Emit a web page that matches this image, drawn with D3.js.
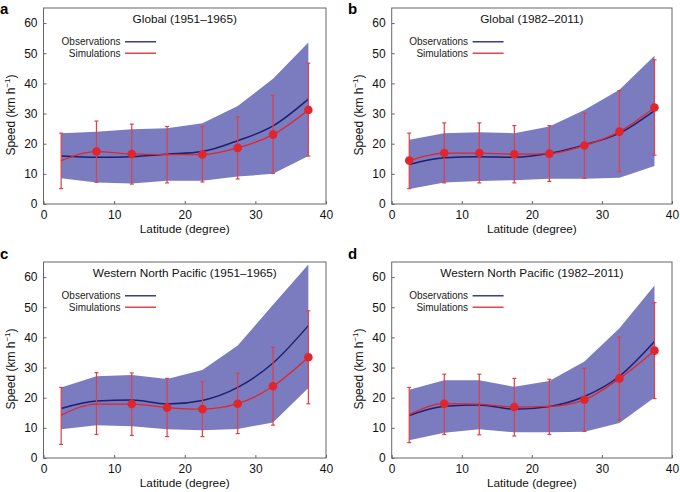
<!DOCTYPE html>
<html><head><meta charset="utf-8">
<script src="https://cdn.jsdelivr.net/npm/d3@7"></script>
<style>body{margin:0;background:#fff}svg{display:block;font-family:"Liberation Sans",Arial,sans-serif}</style>
</head><body><svg id="c" width="680" height="492"></svg>
<script>
const latitudes = [2.5, 7.5, 12.5, 17.5, 22.5, 27.5, 32.5, 37.5];
const xTicks = [0, 10, 20, 30, 40];
const yTicks = [0, 10, 20, 30, 40, 50, 60];
const panelLetters = ["a", "b", "c", "d"];
const panelTitles = ["Global (1951\u20131965)", "Global (1982\u20132011)", "Western North Pacific (1951\u20131965)", "Western North Pacific (1982\u20132011)"];
const seriesNames = ["Observations", "Simulations"];

const obsUpper = [
  [23.5, 24.0, 24.8, 25.1, 26.8, 32.5, 41.5, 53.6],
  [21.3, 23.5, 23.8, 23.5, 25.7, 31.2, 37.9, 49.2],
  [23.4, 27.1, 27.5, 26.2, 29.2, 37.3, 50.8, 64.2],
  [22.6, 25.8, 25.8, 23.6, 25.5, 32.0, 43.0, 57.2]
];
const obsLower = [
  [8.5, 7.1, 6.8, 7.7, 7.7, 9.1, 10.0, 15.9],
  [5.0, 7.1, 7.6, 7.9, 8.4, 8.4, 8.7, 12.6],
  [9.5, 10.9, 10.5, 9.5, 9.2, 9.6, 11.8, 23.2],
  [5.9, 8.4, 9.5, 8.5, 8.5, 8.7, 11.6, 20.1]
];
const obsMean = [
  [15.9, 15.5, 15.7, 16.5, 17.4, 21.0, 25.9, 34.8],
  [13.1, 15.3, 15.7, 15.5, 16.8, 19.6, 23.5, 31.0],
  [16.4, 18.9, 19.2, 17.9, 19.1, 23.4, 31.5, 43.9],
  [14.1, 17.2, 17.6, 16.2, 17.1, 20.4, 27.1, 38.6]
];
const simMean = [
  [14.4, 17.4, 16.6, 16.4, 16.4, 18.6, 23.0, 31.2],
  [14.4, 16.9, 16.9, 16.5, 16.7, 19.4, 24.0, 32.0],
  [14.2, 17.9, 17.9, 16.7, 16.2, 18.0, 23.8, 33.4],
  [14.4, 18.0, 17.9, 16.9, 17.1, 19.3, 26.4, 35.6]
];
const simHigh = [
  [23.5, 27.5, 26.5, 25.7, 25.7, 28.9, 36.0, 46.7],
  [23.5, 26.9, 26.9, 26.0, 26.0, 30.1, 37.6, 47.8],
  [23.4, 28.3, 28.2, 26.4, 25.3, 28.1, 36.7, 48.8],
  [23.4, 27.8, 27.8, 26.4, 26.1, 29.7, 40.1, 51.5]
];
const simLow = [
  [5.1, 7.2, 6.6, 7.0, 7.3, 8.3, 10.2, 15.9],
  [5.1, 7.0, 7.0, 7.0, 7.5, 8.5, 10.7, 16.2],
  [4.5, 7.8, 7.5, 7.1, 7.1, 8.1, 10.9, 18.0],
  [5.1, 7.8, 7.7, 7.3, 7.8, 8.8, 12.6, 19.7]
];
const simMarked = [
  [0, 1, 1, 0, 1, 1, 1, 1],
  [1, 1, 1, 1, 1, 1, 1, 1],
  [0, 0, 1, 1, 1, 1, 1, 1],
  [0, 1, 0, 1, 0, 1, 1, 1]
];

const panels = [
  {left: 43.5, right: 326, top: 8, bottom: 204, lx: 0, ly: 13.8},
  {left: 391.7, right: 672, top: 8, bottom: 204, lx: 348, ly: 13.8},
  {left: 43.5, right: 326, top: 262, bottom: 458, lx: 0, ly: 258.5},
  {left: 391.7, right: 672, top: 262, bottom: 458, lx: 348, ly: 258.5}
];

const colBand = "#7b7bbf", colObs = "#1e1f6e", colSim = "#e0262c", colErr = "#de3f48";
const svg = d3.select("#c");

panels.forEach((p, i) => {
  const x = d3.scaleLinear().domain([0, 40]).range([p.left, p.right]);
  const y = d3.scaleLinear().domain([0, 65]).range([p.bottom, p.top]);
  const g = svg.append("g");

  const bandData = latitudes.map((l, k) => ({l, lo: obsLower[i][k], hi: obsUpper[i][k]}));
  g.append("path").datum(bandData)
    .attr("d", d3.area().x(d => x(d.l)).y0(d => y(d.lo)).y1(d => y(d.hi)))
    .attr("fill", colBand);

  g.append("path").datum(latitudes.map((l, k) => [l, obsMean[i][k]]))
    .attr("d", d3.line().x(d => x(d[0])).y(d => y(d[1])).curve(d3.curveMonotoneX))
    .attr("fill", "none").attr("stroke", colObs).attr("stroke-width", 1.5);

  const eb = g.append("g").attr("stroke", colErr).attr("stroke-width", 1.2);
  latitudes.forEach((l, k) => {
    eb.append("line").attr("x1", x(l)).attr("x2", x(l)).attr("y1", y(simLow[i][k])).attr("y2", y(simHigh[i][k]));
    eb.append("line").attr("x1", x(l) - 2).attr("x2", x(l) + 2).attr("y1", y(simLow[i][k])).attr("y2", y(simLow[i][k]));
    eb.append("line").attr("x1", x(l) - 2).attr("x2", x(l) + 2).attr("y1", y(simHigh[i][k])).attr("y2", y(simHigh[i][k]));
  });

  g.append("path").datum(latitudes.map((l, k) => [l, simMean[i][k]]))
    .attr("d", d3.line().x(d => x(d[0])).y(d => y(d[1])).curve(d3.curveMonotoneX))
    .attr("fill", "none").attr("stroke", colSim).attr("stroke-width", 1.3);

  g.selectAll("circle").data(latitudes.map((l, k) => ({l, v: simMean[i][k], m: simMarked[i][k]})).filter(d => d.m))
    .join("circle").attr("cx", d => x(d.l)).attr("cy", d => y(d.v)).attr("r", 4.3).attr("fill", colSim);

  g.append("rect").attr("x", p.left).attr("y", p.top).attr("width", p.right - p.left).attr("height", p.bottom - p.top)
    .attr("fill", "none").attr("stroke", "#666").attr("stroke-width", 1);

  const xa = g.append("g").attr("transform", `translate(0,${p.bottom})`)
    .call(d3.axisBottom(x).tickValues(xTicks).tickSizeInner(-3).tickSizeOuter(0).tickPadding(6));
  const ya = g.append("g").attr("transform", `translate(${p.left},0)`)
    .call(d3.axisLeft(y).tickValues(yTicks).tickSizeInner(-3).tickSizeOuter(0).tickPadding(6));
  [xa, ya].forEach(a => {
    a.select(".domain").remove();
    a.selectAll("line").attr("stroke", "#666");
    a.selectAll("text").attr("font-size", 12).attr("fill", "#111").attr("font-family", "Liberation Sans, Arial, sans-serif");
  });

  g.append("text").attr("x", (p.left + p.right) / 2).attr("y", p.bottom + 29)
    .attr("text-anchor", "middle").attr("font-size", 11.8).attr("fill", "#111").text("Latitude (degree)");
  const yt = g.append("text").attr("transform", `translate(${p.left - 28.5},${(p.top + p.bottom) / 2 + 9}) rotate(-90)`)
    .attr("text-anchor", "middle").attr("font-size", 12).attr("fill", "#111");
  yt.append("tspan").text("Speed (km h");
  yt.append("tspan").attr("dy", -5).attr("font-size", 8).text("\u22121");
  yt.append("tspan").attr("dy", 5).text(")");

  g.append("text").attr("x", x(20)).attr("y", p.top + 14.5).attr("text-anchor", "middle")
    .attr("font-size", 11.8).attr("fill", "#111").text(panelTitles[i]);

  const lgx = x(10.9);
  [[seriesNames[0], colObs, 33.8], [seriesNames[1], colSim, 45.2]].forEach(([t, c, dy]) => {
    g.append("text").attr("x", lgx).attr("y", p.top + dy + 3.6).attr("text-anchor", "end")
      .attr("font-size", 10).attr("fill", "#222").text(t);
    g.append("line").attr("x1", lgx + 4.5).attr("x2", lgx + 35.5).attr("y1", p.top + dy).attr("y2", p.top + dy)
      .attr("stroke", c).attr("stroke-width", 1.3);
  });

  svg.append("text").attr("x", p.lx).attr("y", p.ly).attr("font-size", 15).attr("font-weight", "bold")
    .attr("fill", "#000").text(panelLetters[i]);
});
</script></body></html>
